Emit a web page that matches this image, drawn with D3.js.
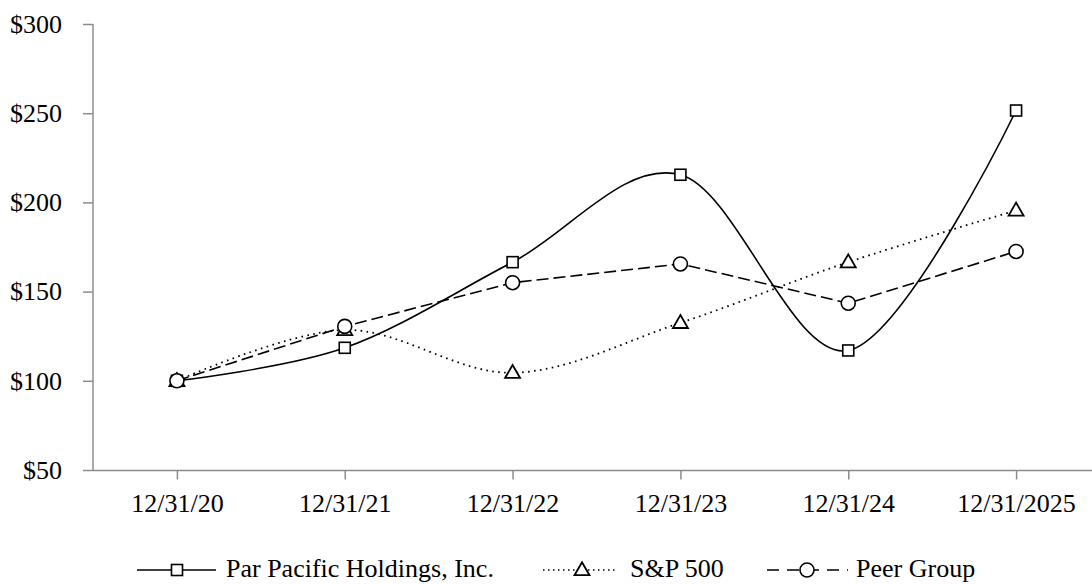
<!DOCTYPE html>
<html><head><meta charset="utf-8">
<script src="https://cdn.jsdelivr.net/npm/d3@7"></script>
<style>body{margin:0;background:#fff}svg{display:block}text{font-family:"Liberation Serif","Times New Roman",serif;fill:#000}</style>
</head><body>
<svg id="c" width="1092" height="584"></svg>
<script>
const categories = ["12/31/20","12/31/21","12/31/22","12/31/23","12/31/24","12/31/2025"];
const parValues  = [100, 118.5, 166.5, 215.5, 117, 251.5];
const spValues   = [100, 128.5, 104.5, 132.5, 166.5, 195.5];
const peerValues = [100, 130.5, 155, 165.5, 143.5, 172.5];
const yTicks = [50, 100, 150, 200, 250, 300];
const seriesNames = ["Par Pacific Holdings, Inc.", "S&P 500", "Peer Group"];

const svg = d3.select("#c");
const x = d3.scalePoint().domain(categories).range([93, 1100]).padding(0.5);
const y = d3.scaleLinear().domain([50, 300]).range([470, 24]);
const axisColor = "#8c8c8c";
const FS = "26px";

// y axis
const ya = svg.append("g").attr("transform","translate(93,0)")
  .call(d3.axisLeft(y).tickValues(yTicks).tickSize(10).tickPadding(21).tickFormat(d => "$" + d));
ya.select(".domain").attr("stroke", axisColor).attr("stroke-width",1.5).attr("d","M0,24V470.5");
ya.selectAll(".tick line").attr("stroke", axisColor).attr("stroke-width",1.5);
ya.selectAll(".tick text").style("font-size",FS).attr("font-family","Liberation Serif").attr("fill","#000");

// x axis
const xa = svg.append("g").attr("transform","translate(0,470.5)")
  .call(d3.axisBottom(x).tickSize(9).tickPadding(10));
xa.select(".domain").attr("stroke", axisColor).attr("stroke-width",1.5).attr("d","M93,0H1100");
xa.selectAll(".tick line").attr("stroke", axisColor).attr("stroke-width",1.5);
xa.selectAll(".tick text").style("font-size",FS).attr("font-family","Liberation Serif").attr("fill","#000")
  .attr("dy", null).attr("y", 41.5);

const smooth = d3.line().x((d,i)=>x(categories[i])).y(d=>y(d)).curve(d3.curveCardinal.tension(0));
const straight = d3.line().x((d,i)=>x(categories[i])).y(d=>y(d));

const series = [
  {vals: parValues, line: smooth, dash: null, marker: "square"},
  {vals: spValues, line: smooth, dash: "1.6,4.4", marker: "triangle"},
  {vals: peerValues, line: straight, dash: "12,5", marker: "circle"}
];

function drawMarker(g, type, cx, cy) {
  if (type === "square") {
    g.append("rect").attr("x",cx-5.5).attr("y",cy-5.5).attr("width",11).attr("height",11)
      .attr("fill","#fff").attr("stroke","#000").attr("stroke-width",1.6);
  } else if (type === "triangle") {
    const s = 15, h = 13;
    g.append("path").attr("d",`M${cx},${cy-h*0.6}L${cx+s/2},${cy+h*0.4}L${cx-s/2},${cy+h*0.4}Z`)
      .attr("fill","#fff").attr("stroke","#000").attr("stroke-width",1.8);
  } else {
    g.append("circle").attr("cx",cx).attr("cy",cy).attr("r",7)
      .attr("fill","#fff").attr("stroke","#000").attr("stroke-width",1.6);
  }
}

series.forEach(s => {
  svg.append("path").attr("d", s.line(s.vals)).attr("fill","none").attr("stroke","#000")
    .attr("stroke-width", s.marker === "triangle" ? 1.8 : 1.6)
    .attr("stroke-dasharray", s.dash);
});
series.forEach(s => {
  const g = svg.append("g");
  s.vals.forEach((v,i) => drawMarker(g, s.marker, x(categories[i]), y(v)));
});

// legend
const legendY = 570;
const legend = [
  {x1:137, x2:216, mx:177, tx:226},
  {x1:543, x2:616, mx:582, tx:630},
  {x1:767, x2:848, mx:807, tx:856}
];
legend.forEach((l,i) => {
  const s = series[i];
  const g = svg.append("g");
  g.append("line").attr("x1",l.x1).attr("x2",l.x2).attr("y1",legendY).attr("y2",legendY)
    .attr("stroke","#000").attr("stroke-width", 1.6)
    .attr("stroke-dasharray", s.marker === "triangle" ? "1.5,3.5" : (s.dash ? "12,8" : null));
  drawMarker(g, s.marker, l.mx, legendY);
  g.append("text").attr("x",l.tx).attr("y",577)
    .style("font-size",FS).text(seriesNames[i]);
});
</script>
</body></html>
